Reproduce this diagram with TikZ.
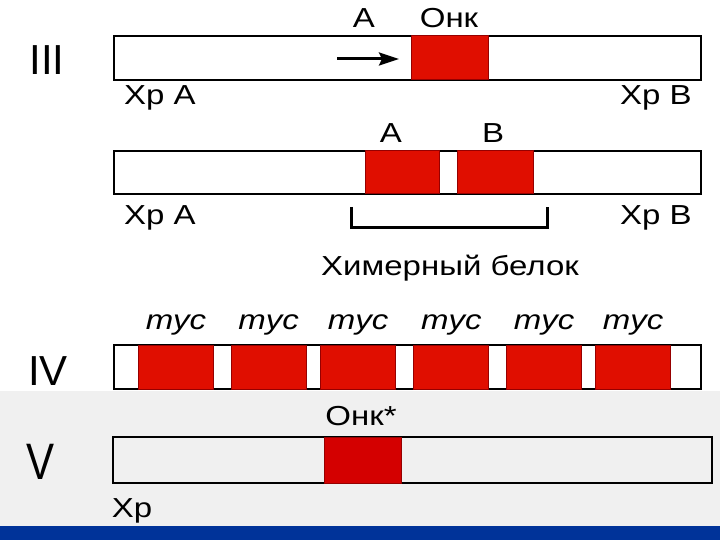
\documentclass[tikz,border=0pt]{standalone}
\usepackage{fontspec}
\setmainfont{Liberation Sans}[FakeStretch=1.2]
\newfontfamily\romfont{Liberation Sans}
\usetikzlibrary{arrows.meta}
\definecolor{onkred}{RGB}{224,14,0}
\definecolor{onkdark}{RGB}{212,0,0}
\definecolor{onkborder}{RGB}{150,0,0}
\definecolor{bggray}{RGB}{240,240,240}
\definecolor{slideblue}{RGB}{0,51,153}
\begin{document}
\begin{tikzpicture}[x=1pt,y=1pt,
  bar/.style={draw=black, line width=2pt, fill=white, inner sep=0pt, minimum height=44pt},
  onk/.style={draw=onkborder, line width=1pt, fill=onkred, inner sep=0pt, minimum width=75pt, minimum height=44pt},
  lbl/.style={font=\fontsize{27.5}{30}\selectfont, inner sep=0pt, anchor=base},
  myc/.style={font=\fontsize{27.5}{30}\selectfont\itshape, inner sep=0pt, anchor=base},
  rom/.style={font=\romfont\fontsize{42}{46}\selectfont, inner sep=0pt, anchor=base},
  arr/.style={line width=3pt, -{Stealth[length=20pt,width=13pt,inset=3pt]}},
  bracket/.style={line width=3pt}
]
\useasboundingbox (0,0) rectangle (720,-540);
\fill[white] (0,0) rectangle (720,-391);
\fill[bggray] (0,-391) rectangle (720,-526);
\fill[slideblue] (0,-526) rectangle (720,-540);

% Row III
\node[rom] (r3) at (47,-75) {III};
\node[bar, minimum width=587pt] (bar3) at (407.5,-58) {};
\node[onk, minimum width=77pt] (onk3) at (449.5,-58) {};
\coordinate (arrS) at (337,-59);
\coordinate (arrE) at (399,-59);
\draw[arr] (arrS) -- (arrE);
\node[lbl] (lA1) at (364,-28) {A};
\node[lbl] (lOnk) at (449,-28) {Онк};
\node[lbl] (xA1) at (160,-105) {Хр A};
\node[lbl] (xB1) at (656,-105) {Хр B};

% Chimeric row
\node[bar, minimum width=587pt, minimum height=43pt] (bar2) at (407.5,-172.5) {};
\node[onk, minimum width=74pt, minimum height=43pt] (onkA) at (402,-172.5) {};
\node[onk, minimum width=76pt, minimum height=43pt] (onkB) at (495,-172.5) {};
\node[lbl] (lA2) at (391,-143) {A};
\node[lbl] (lB2) at (493,-143) {B};
\node[lbl] (xA2) at (160,-225) {Хр A};
\node[lbl] (xB2) at (656,-225) {Хр B};
\coordinate (brL) at (351,-207);
\coordinate (brR) at (547,-207);
\draw[bracket] (brL) -- ++(0,-21) -| (brR);
\node[lbl] (chim) at (450,-275) {Химерный белок};

% Row IV
\node[rom] (r4) at (48,-385) {IV};
\node[bar, minimum width=587pt] (bar4) at (407.5,-367) {};
\foreach \cx [count=\i] in {176,268.6,358.2,451.3,544,633} {
  \node[onk] (myc\i) at (\cx,-367) {};
  \node[myc] (mycl\i) at (\cx,-329) {myc};
}

% Row V
\node[rom] (r5) at (41,-479) {\scalebox{1}[1.22]{V}};
\node[bar, fill=bggray, minimum width=599pt, minimum height=46pt] (bar5) at (412.5,-460) {};
\node[onk, fill=onkdark, minimum width=77pt, minimum height=46pt] (onk5) at (362.5,-460) {};
\node[lbl] (lOnk5) at (361,-425) {Онк*};
\node[lbl] (xV) at (132,-517) {Хр};
\end{tikzpicture}
\end{document}
